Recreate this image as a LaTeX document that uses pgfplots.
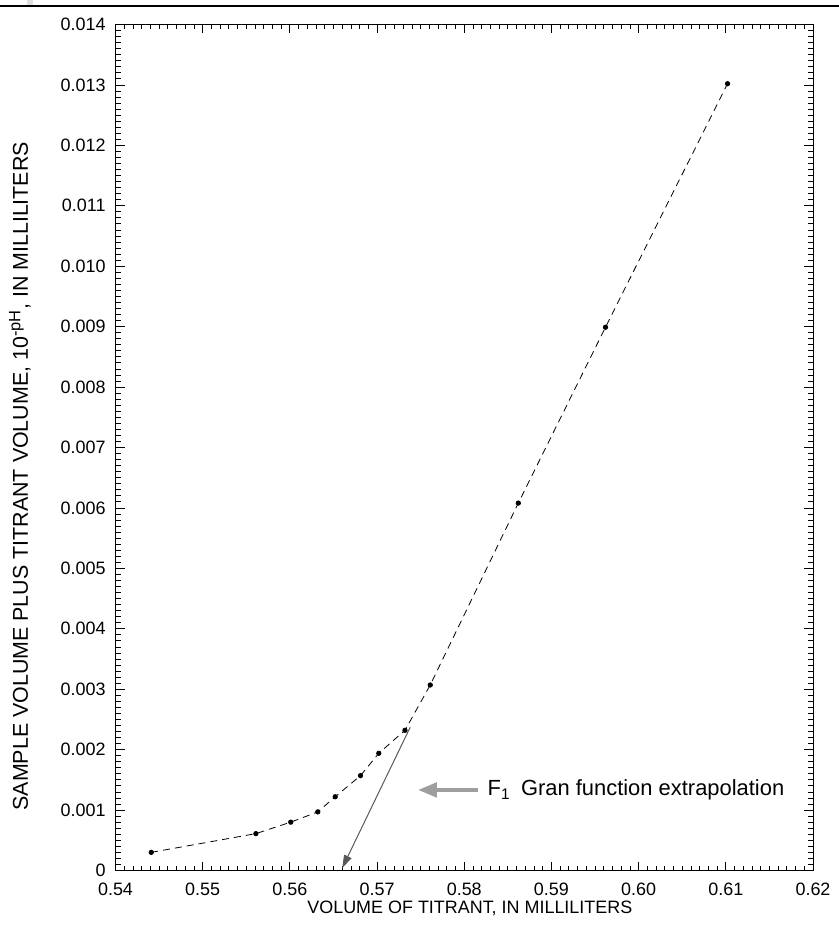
\documentclass[border=0pt]{standalone}
\usepackage{fontspec}
\setmainfont{Liberation Sans}
\usepackage{pgfplots}
\pgfplotsset{compat=1.18}
\usetikzlibrary{arrows.meta}
\begin{document}
\fontsize{17.5}{21}\selectfont
\begin{tikzpicture}[x=1bp,y=1bp]
\path[use as bounding box] (0,0) rectangle (839,930);
\fill[black!12] (27,925) rectangle (33,930);
\draw[line width=1.6bp] (0,924) -- (839,924);
\begin{axis}[
  at={(115.5bp,59.5bp)}, anchor=south west,
  scale only axis, width=697.5bp, height=846bp,
  xmin=0.54, xmax=0.62, ymin=0, ymax=0.014,
  xtick={0.54,0.55,0.56,0.57,0.58,0.59,0.60,0.61,0.62},
  xticklabels={0.54,0.55,0.56,0.57,0.58,0.59,0.60,0.61,0.62},
  ytick={0,0.001,0.002,0.003,0.004,0.005,0.006,0.007,0.008,0.009,0.010,0.011,0.012,0.013,0.014},
  yticklabels={0,0.001,0.002,0.003,0.004,0.005,0.006,0.007,0.008,0.009,0.010,0.011,0.012,0.013,0.014},
  minor x tick num=9, minor y tick num=9,
  tick align=inside,
  major tick length=9bp, minor tick length=5bp,
  every tick/.style={black, line width=0.8bp},
  axis line style={line width=1bp},
  ticklabel style={font=\fontsize{18}{21}\selectfont},
  xticklabel style={anchor=base, yshift=-25.5bp},
  yticklabel style={xshift=-4bp},
  xlabel={VOLUME OF TITRANT, IN MILLILITERS},
  ylabel={SAMPLE VOLUME PLUS TITRANT VOLUME, 10\textsuperscript{\fontsize{16.5}{18}\selectfont -pH}, IN MILLILITERS},
  xlabel style={font=\fontsize{18}{21}\selectfont, at={(axis description cs:0.508,-0.0508)}, anchor=base},
  ylabel style={font=\fontsize{21.5}{25}\selectfont, at={(axis description cs:-0.137,0.466)}, anchor=center},
  clip=false,
]
\addplot[black, line width=0.8bp, dash pattern=on 7bp off 5bp,
  mark=*, mark size=2.2bp, mark options={solid}] coordinates {
  (0.5441,0.00030) (0.5561,0.00061) (0.5601,0.00080) (0.5632,0.00097)
  (0.5652,0.00122) (0.5681,0.00157) (0.5702,0.00194) (0.5732,0.00232)
  (0.5761,0.00307) (0.5862,0.00608) (0.5962,0.00899) (0.6102,0.01302)
};
\addplot[black!65, line width=1bp, -{Triangle[length=13bp,width=8bp]}] coordinates {
  (0.5738,0.00237) (0.5660,0.00004)
};
\addplot[black!38, line width=4.5bp, -{Triangle[length=19bp,width=14bp]}] coordinates {
  (0.58155,0.001333) (0.57467,0.001333)
};
\node[anchor=west, inner sep=0pt, font=\fontsize{22}{25}\selectfont]
  at (axis cs:0.58266,0.001333) {F\textsubscript{1}\hspace{11bp}Gran function extrapolation};
\end{axis}
\end{tikzpicture}
\end{document}
